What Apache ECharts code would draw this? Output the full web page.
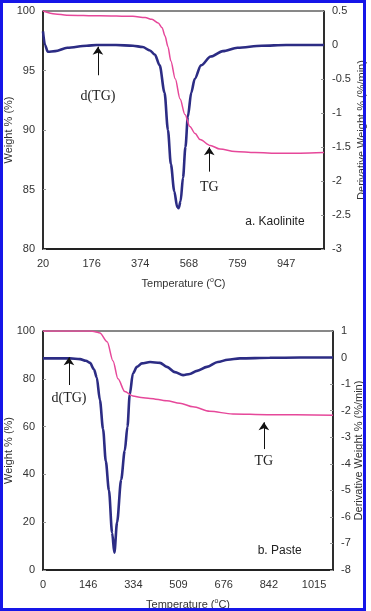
<!DOCTYPE html>
<html><head><meta charset="utf-8">
<script src="https://cdn.jsdelivr.net/npm/echarts@6.0.0/dist/echarts.min.js"></script>
<style>html,body{margin:0;padding:0;background:#fff}#c{width:371px;height:611px}</style>
</head><body><div id="c"></div>
<script>
// ---- Tick labels (category-style temperature labels, one per axis unit) ----
const topTicks = ['20', '176', '374', '568', '759', '947'];
const botTicks = ['0', '146', '334', '509', '676', '842', '1015'];

// ---- a. Kaolinite ----
const kaoTG_x = [0, 0.25, 0.49, 1.17, 1.85, 2.10, 2.24, 2.37, 2.45, 2.51, 2.57, 2.63, 2.72, 2.82, 2.92, 3.02, 3.13, 3.23, 3.44, 3.64, 3.95, 4.36, 4.88, 5.29, 5.78];
const kaoTG_y = [100, 99.75, 99.65, 99.6, 99.55, 99.45, 99.3, 99.0, 98.6, 97.9, 97.0, 95.8, 94.3, 92.6, 91.3, 90.3, 89.7, 89.2, 88.7, 88.4, 88.2, 88.1, 88.05, 88.05, 88.1];
const kaoDTG_x = [0, 0.04, 0.1, 0.25, 0.5, 0.9, 1.1, 1.5, 1.85, 2.05, 2.2, 2.3, 2.4, 2.5, 2.57, 2.63, 2.7, 2.76, 2.79, 2.83, 2.88, 2.93, 2.98, 3.05, 3.12, 3.25, 3.45, 3.7, 4.0, 4.5, 5.0, 5.78];
const kaoDTG_y = [0.2, 0.0, -0.1, -0.09, -0.04, -0.01, 0.0, 0.0, -0.01, -0.03, -0.08, -0.14, -0.3, -0.7, -1.25, -1.75, -2.15, -2.38, -2.40, -2.3, -1.95, -1.5, -1.05, -0.7, -0.5, -0.3, -0.17, -0.09, -0.04, -0.01, 0.0, 0.0];

// ---- b. Paste ----
const pasTG_x = [0, 1.04, 1.15, 1.26, 1.42, 1.55, 1.66, 1.81, 1.99, 2.17, 2.37, 2.74, 3.03, 3.32, 3.69, 4.2, 4.96, 6.42];
const pasTG_y = [100, 100, 99.7, 99.2, 95.5, 87.5, 80, 74.7, 72.8, 72.2, 71.8, 70.8, 69.8, 68.3, 66.4, 65.3, 65.0, 64.8];
const pasDTG_x = [0, 0.6, 0.82, 0.95, 1.04, 1.13, 1.19, 1.26, 1.33, 1.39, 1.46, 1.53, 1.58, 1.64, 1.73, 1.81, 1.87, 1.92, 1.99, 2.08, 2.19, 2.37, 2.59, 2.74, 2.92, 3.1, 3.25, 3.41, 3.63, 3.87, 4.09, 4.36, 5.02, 5.69, 6.42];
const pasDTG_y = [-0.03, -0.03, -0.06, -0.12, -0.2, -0.45, -0.75, -1.6, -2.7, -3.9, -5.0, -6.6, -7.35, -6.2, -4.6, -3.5, -2.6, -1.4, -0.6, -0.35, -0.22, -0.17, -0.2, -0.35, -0.55, -0.66, -0.62, -0.5, -0.35, -0.17, -0.08, -0.03, -0.01, 0.0, 0.0];

const zip = (xs, ys) => xs.map((x, i) => [x, ys[i]]);

const TG_COLOR = '#e6489a';
const DTG_COLOR = '#2c2c84';
const SANS = 'Liberation Sans, Arial, sans-serif';
const SERIF = 'Liberation Serif, Times New Roman, serif';

function xAxisFor(grid, ticks, max, gap) {
  return {
    type: 'value', gridIndex: grid, min: 0, max: max, interval: 1,
    name: 'Temperature ({s|o}C)', nameLocation: 'middle', nameGap: gap, nameMoveOverlap: false,
    nameTextStyle: { fontFamily: SANS, fontSize: 11, color: '#333',
      rich: { s: { fontFamily: SANS, fontSize: 7, color: '#333', verticalAlign: 'top', padding: [0, 0, 6, 0] } } },
    axisLine: { show: true, onZero: false, lineStyle: { color: '#222', width: 2 } },
    axisTick: { show: false }, splitLine: { show: false },
    axisLabel: { fontFamily: SANS, fontSize: 11, color: '#333', margin: 9,
      formatter: v => (Math.abs(v - Math.round(v)) < 1e-6 && ticks[Math.round(v)] !== undefined) ? ticks[Math.round(v)] : '' }
  };
}
function yAxisFor(grid, pos, min, max, interval, name, gap) {
  return {
    type: 'value', gridIndex: grid, position: pos, min: min, max: max, interval: interval,
    name: name, nameLocation: 'middle', nameGap: gap, nameMoveOverlap: false,
    nameTextStyle: { fontFamily: SANS, fontSize: 11, color: '#333' },
    axisLine: { show: true, onZero: false, lineStyle: { color: '#111', width: 1.5 } },
    axisTick: { show: true, inside: true, length: 3, lineStyle: { color: '#999' } },
    splitLine: { show: false },
    axisLabel: { fontFamily: SANS, fontSize: 11, color: '#333', margin: 8 }
  };
}
function arrowLine(pairs) {
  return {
    silent: true, animation: false, symbol: ['none', 'arrow'], symbolSize: 8,
    lineStyle: { color: '#111', width: 1, type: 'solid' }, label: { show: false },
    data: pairs.map(p => [{ coord: [p[0], p[1]] }, { coord: [p[0], p[2]] }])
  };
}
function textMarks(items) {
  return {
    silent: true, animation: false, symbol: 'circle', symbolSize: 1,
    itemStyle: { color: 'rgba(0,0,0,0)' },
    data: items.map(t => ({ name: t[2], coord: [t[0], t[1]],
      label: { show: true, position: 'inside', formatter: '{b}', color: '#222',
        fontFamily: t[3] === 'serif' ? SERIF : SANS, fontSize: t[3] === 'serif' ? 14 : 12 } }))
  };
}
const gridBase = { show: true, borderColor: '#111', borderWidth: 1, backgroundColor: 'transparent', containLabel: false, outerBoundsMode: 'none' };

const chart = echarts.init(document.getElementById('c'), null, { renderer: 'canvas' });
chart.setOption({
  animation: false,
  backgroundColor: '#fff',
  graphic: [{ type: 'rect', shape: { x: 1.5, y: 1.5, width: 363, height: 608 },
    style: { fill: 'none', stroke: '#1616e8', lineWidth: 3 }, z: 100 }],
  grid: [
    Object.assign({ left: 43, right: 47, top: 11, height: 238 }, gridBase),
    Object.assign({ left: 43, right: 38, top: 331, height: 239 }, gridBase)
  ],
  xAxis: [ xAxisFor(0, topTicks, 5.78, 28), xAxisFor(1, botTicks, 6.42, 28) ],
  yAxis: [
    yAxisFor(0, 'left', 80, 100, 5, 'Weight % (%)', 29),
    yAxisFor(0, 'right', -3, 0.5, 0.5, 'Derivative Weight % (%/min)', 32),
    yAxisFor(1, 'left', 0, 100, 20, 'Weight % (%)', 29),
    yAxisFor(1, 'right', -8, 1, 1, 'Derivative Weight % (%/min)', 20)
  ],
  series: [
    { type: 'line', xAxisIndex: 0, yAxisIndex: 1, data: zip(kaoDTG_x, kaoDTG_y), showSymbol: false,
      smooth: 0.3, smoothMonotone: 'x', lineStyle: { color: DTG_COLOR, width: 2.6 }, z: 3 },
    { type: 'line', xAxisIndex: 0, yAxisIndex: 0, data: zip(kaoTG_x, kaoTG_y), showSymbol: false,
      smooth: 0.3, smoothMonotone: 'x', lineStyle: { color: TG_COLOR, width: 1.5 }, z: 4,
      markLine: arrowLine([[1.13, 94.6, 97.0], [3.42, 86.5, 88.55]]),
      markPoint: textMarks([[1.13, 92.8, 'd(TG)', 'serif'], [3.42, 85.2, 'TG', 'serif'], [4.77, 82.3, 'a. Kaolinite', 'sans']]) },
    { type: 'line', xAxisIndex: 1, yAxisIndex: 3, data: zip(pasDTG_x, pasDTG_y), showSymbol: false,
      smooth: 0.3, smoothMonotone: 'x', lineStyle: { color: DTG_COLOR, width: 2.6 }, z: 3 },
    { type: 'line', xAxisIndex: 1, yAxisIndex: 2, data: zip(pasTG_x, pasTG_y), showSymbol: false,
      smooth: 0.3, smoothMonotone: 'x', lineStyle: { color: TG_COLOR, width: 1.5 }, z: 4,
      markLine: arrowLine([[0.575, 77.4, 89.0], [4.89, 50.6, 61.8]]),
      markPoint: textMarks([[0.575, 72.0, 'd(TG)', 'serif'], [4.89, 45.6, 'TG', 'serif'], [5.24, 8.0, 'b. Paste', 'sans']]) }
  ]
});
</script></body></html>
